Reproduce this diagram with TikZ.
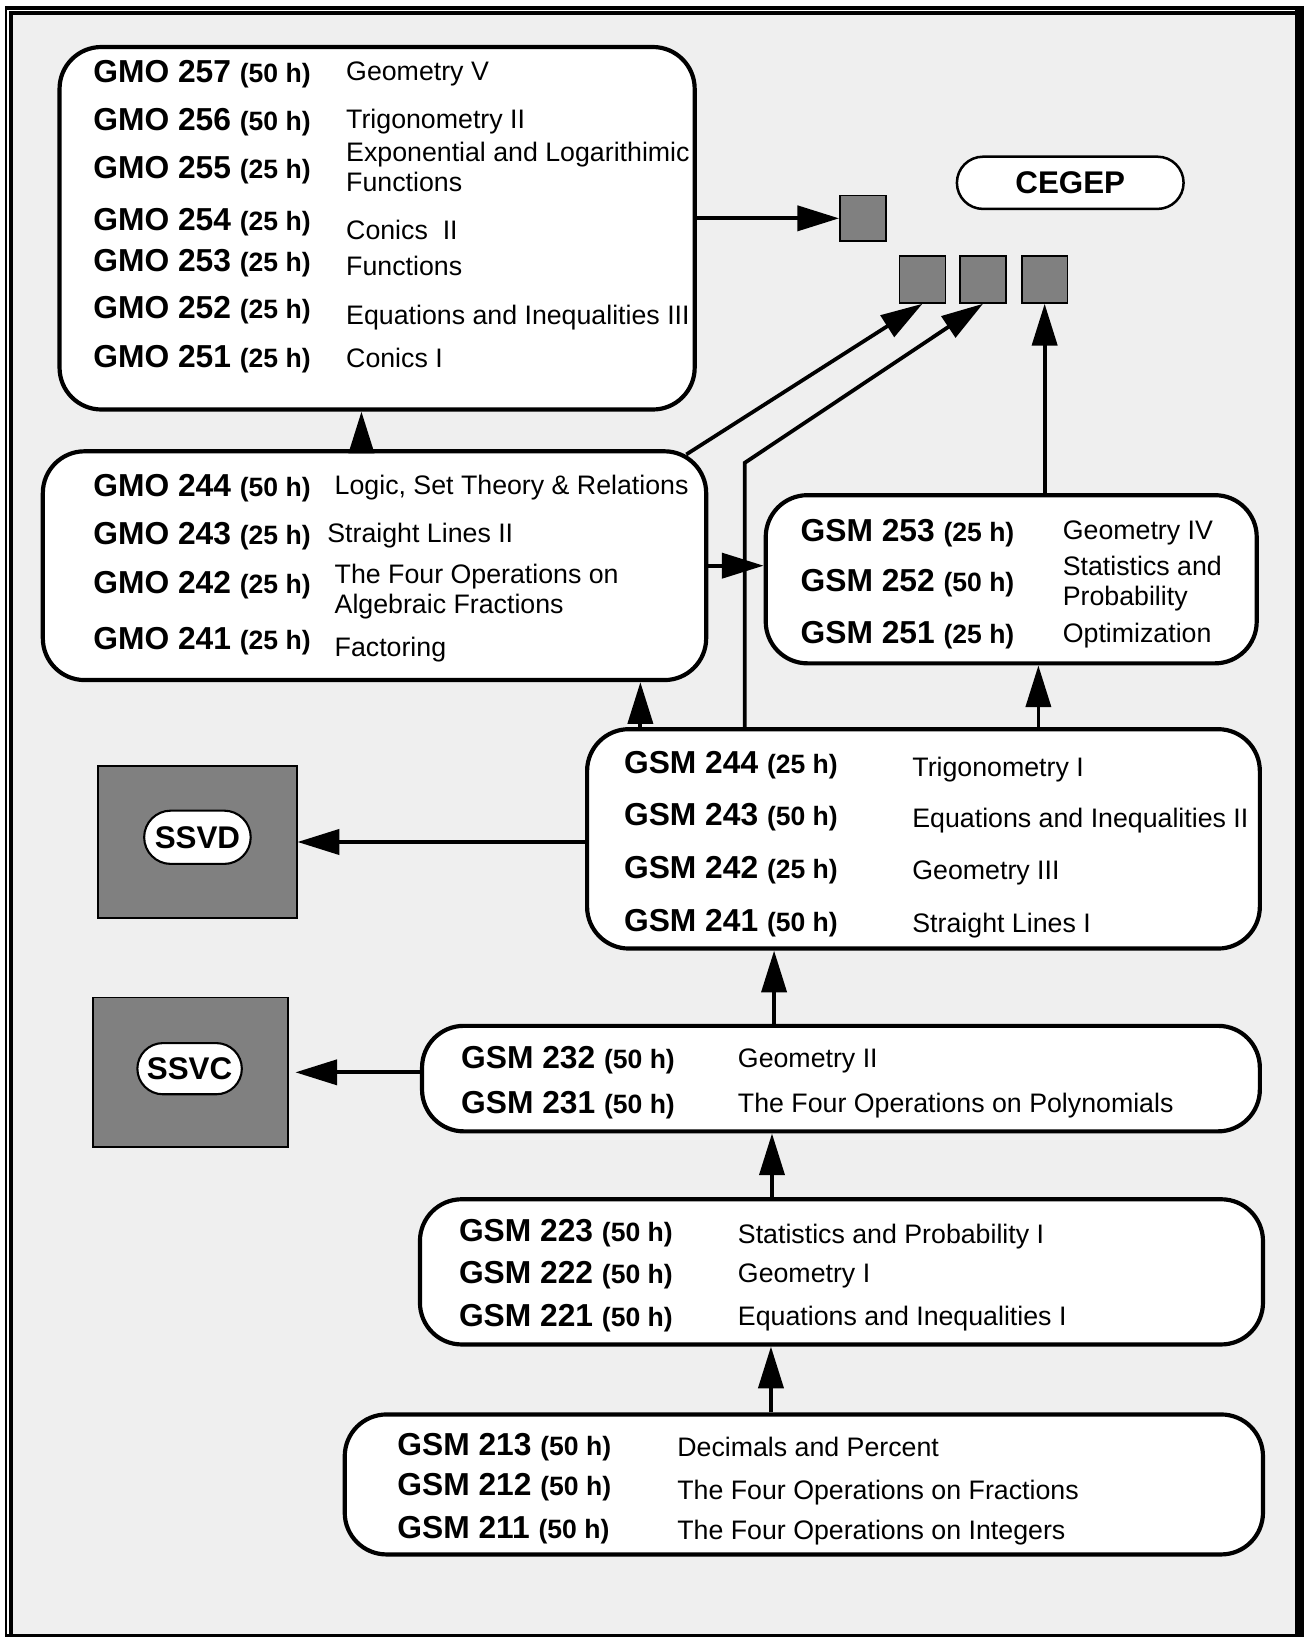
\documentclass[tikz,border=0pt]{standalone}
\usepackage{fontspec}
\setmainfont{Liberation Sans}
\usetikzlibrary{arrows.meta,shapes.misc,calc}
\definecolor{bggray}{HTML}{EFEFEF}
\definecolor{sqgray}{HTML}{808080}
\newcommand{\ccode}[2]{#1 {\fontsize{12.7}{15}\selectfont(#2 h)}}
\tikzset{
  box/.style={draw, line width=2pt, fill=white, rounded corners=20pt, inner sep=0pt},
  arr/.style={line width=1.8pt, -{Triangle[length=20pt,width=12pt]}},
  gsq/.style={draw, line width=0.8pt, fill=sqgray, inner sep=0pt},
  pill/.style={draw, fill=white, rounded rectangle, inner sep=0pt, font=\fontsize{15}{18}\selectfont\bfseries},
  code/.style={anchor=base west, inner sep=0pt, font=\fontsize{15.2}{18}\selectfont\bfseries},
  desc/.style={anchor=base west, inner sep=0pt, font=\fontsize{12.8}{15}\selectfont},
}
\begin{document}
\begin{tikzpicture}[x=0.5pt,y=-0.5pt]
\useasboundingbox (0,0) rectangle (1252,1568);
% frame
\fill[black] (4.8,5.7) rectangle (1248,1567);
\draw[white, line width=0.9pt] (7.6,1564) -- (7.6,10) -- (1240,10);
\fill[bggray] (12.4,14.4) rectangle (1239.6,1564);

% boxes
\node[box, minimum width=304pt, minimum height=173.5pt] (gmo25) at (361,218.5) {};
\node[box, minimum width=317.5pt, minimum height=109.5pt] (gmo24) at (358.5,541.5) {};
\node[box, minimum width=235pt, minimum height=80.5pt] (gsm25) at (968,554.5) {};
\node[box, minimum width=322pt, minimum height=105pt] (gsm24) at (884,803) {};
\node[box, minimum width=401pt, minimum height=50.5pt] (gsm23) at (805,1032.5) {};
\node[box, minimum width=403.5pt, minimum height=69.5pt] (gsm22) at (805.5,1217.5) {};
\node[box, minimum width=439.5pt, minimum height=67pt] (gsm21) at (769.5,1421) {};

% grey boxes
\node[gsq, minimum width=95pt, minimum height=73pt] (ssvd) at (189,806) {};
\node[gsq, minimum width=93.5pt, minimum height=71.5pt] (ssvc) at (182.5,1026.5) {};
\node[pill, line width=1pt, minimum width=51pt, minimum height=25.5pt] (ssvdl) at (189,801.5) {SSVD};
\node[pill, line width=1pt, minimum width=50pt, minimum height=24.5pt] (ssvcl) at (181.5,1023) {SSVC};

\node[gsq, minimum width=22pt, minimum height=22pt] (sq0) at (826,209) {};
\node[gsq, minimum width=22pt, minimum height=22.5pt] (sq1) at (883,267.5) {};
\node[gsq, minimum width=22pt, minimum height=22.5pt] (sq2) at (941,267.5) {};
\node[gsq, minimum width=22pt, minimum height=22.5pt] (sq3) at (1000,267.5) {};
\node[pill, line width=1.2pt, minimum width=108.5pt, minimum height=25pt] (cegep) at (1024.5,175) {CEGEP};

% GMO 25x
\node[code] (c257) at (89,79) {\ccode{GMO 257}{50}};
\node[desc] (d257) at (331,77) {Geometry V};
\node[code] (c256) at (89,125) {\ccode{GMO 256}{50}};
\node[desc] (d256) at (331,123) {Trigonometry II};
\node[code] (c255) at (89,171) {\ccode{GMO 255}{25}};
\node[desc] (d255a) at (331,155) {Exponential and Logarithimic};
\node[desc] (d255b) at (331,183) {Functions};
\node[code] (c254) at (89,221) {\ccode{GMO 254}{25}};
\node[desc] (d254) at (331,229) {Conics\ \ II};
\node[code] (c253) at (89,260) {\ccode{GMO 253}{25}};
\node[desc] (d253) at (331,264) {Functions};
\node[code] (c252) at (89,305) {\ccode{GMO 252}{25}};
\node[desc] (d252) at (331,311) {Equations and Inequalities III};
\node[code] (c251) at (89,352) {\ccode{GMO 251}{25}};
\node[desc] (d251) at (331,352) {Conics I};

% GMO 24x
\node[code] (c244) at (89,475) {\ccode{GMO 244}{50}};
\node[desc] (d244) at (320,473) {Logic, Set Theory \& Relations};
\node[code] (c243) at (89,521) {\ccode{GMO 243}{25}};
\node[desc] (d243) at (313,519) {Straight Lines II};
\node[code] (c242) at (89,568) {\ccode{GMO 242}{25}};
\node[desc] (d242a) at (320,559) {The Four Operations on};
\node[desc] (d242b) at (320,587) {Algebraic Fractions};
\node[code] (c241) at (89,622) {\ccode{GMO 241}{25}};
\node[desc] (d241) at (320,628) {Factoring};

% GSM 25x
\node[code] (s253) at (766,518) {\ccode{GSM 253}{25}};
\node[desc] (e253) at (1017,516) {Geometry IV};
\node[code] (s252) at (766,566) {\ccode{GSM 252}{50}};
\node[desc] (e252a) at (1017,551) {Statistics and};
\node[desc] (e252b) at (1017,580) {Probability};
\node[code] (s251) at (766,616) {\ccode{GSM 251}{25}};
\node[desc] (e251) at (1017,615) {Optimization};

% GSM 24x
\node[code] (s244) at (597,740) {\ccode{GSM 244}{25}};
\node[desc] (e244) at (873,743) {Trigonometry I};
\node[code] (s243) at (597,790) {\ccode{GSM 243}{50}};
\node[desc] (e243) at (873,792) {Equations and Inequalities II};
\node[code] (s242) at (597,841) {\ccode{GSM 242}{25}};
\node[desc] (e242) at (873,842) {Geometry III};
\node[code] (s241) at (597,892) {\ccode{GSM 241}{50}};
\node[desc] (e241) at (873,893) {Straight Lines I};

% GSM 23x
\node[code] (s232) at (441,1023) {\ccode{GSM 232}{50}};
\node[desc] (e232) at (706,1022) {Geometry II};
\node[code] (s231) at (441,1066) {\ccode{GSM 231}{50}};
\node[desc] (e231) at (706,1065) {The Four Operations on Polynomials};

% GSM 22x
\node[code] (s223) at (439,1188) {\ccode{GSM 223}{50}};
\node[desc] (e223) at (706,1190) {Statistics and Probability I};
\node[code] (s222) at (439,1229) {\ccode{GSM 222}{50}};
\node[desc] (e222) at (706,1228) {Geometry I};
\node[code] (s221) at (439,1270) {\ccode{GSM 221}{50}};
\node[desc] (e221) at (706,1269) {Equations and Inequalities I};

% GSM 21x
\node[code] (s213) at (380,1393) {\ccode{GSM 213}{50}};
\node[desc] (e213) at (648,1394) {Decimals and Percent};
\node[code] (s212) at (380,1432) {\ccode{GSM 212}{50}};
\node[desc] (e212) at (648,1435) {The Four Operations on Fractions};
\node[code] (s211) at (380,1473) {\ccode{GSM 211}{50}};
\node[desc] (e211) at (648,1474) {The Four Operations on Integers};

% connectors
\coordinate (bend) at (713,443);
\coordinate (gmocorner) at ($(gmo24.north east)+(-21,5)$);
\draw[arr] (gmo25.east |- sq0.west) -- (sq0.west);
\draw[arr] (gmocorner) -- (sq1.south);
\draw[arr] (bend |- gsm24.north) -- (bend) -- (sq2.south);
\draw[arr] (sq3.south |- gsm25.north) -- (sq3.south);
\draw[arr] ([xshift=-6.25pt]gmo24.north) -- ([xshift=-6.25pt]gmo24.north |- gmo25.south);
\draw[arr] (gmo24.east) -- (gmo24.east -| gsm25.west);
\draw[arr] ([xshift=-135.5pt]gsm24.north) -- ([xshift=-135.5pt]gsm24.north |- gmo24.south);
\draw[arr] ([xshift=55pt]gsm24.north) -- ([xshift=55pt]gsm24.north |- gsm25.south);
\draw[arr] (ssvd.east -| gsm24.west) -- (ssvd.east);
\draw[arr] (ssvc.east -| gsm23.west) -- ([xshift=3pt]ssvc.east);
\draw[arr] ([xshift=-32pt]gsm23.north) -- ([xshift=-32pt]gsm23.north |- gsm24.south);
\draw[arr] ([xshift=-33.25pt]gsm22.north) -- ([xshift=-33.25pt]gsm22.north |- gsm23.south);
\draw[arr] ([xshift=-15.75pt]gsm21.north) -- ([xshift=-15.75pt]gsm21.north |- gsm22.south);
\end{tikzpicture}
\end{document}
